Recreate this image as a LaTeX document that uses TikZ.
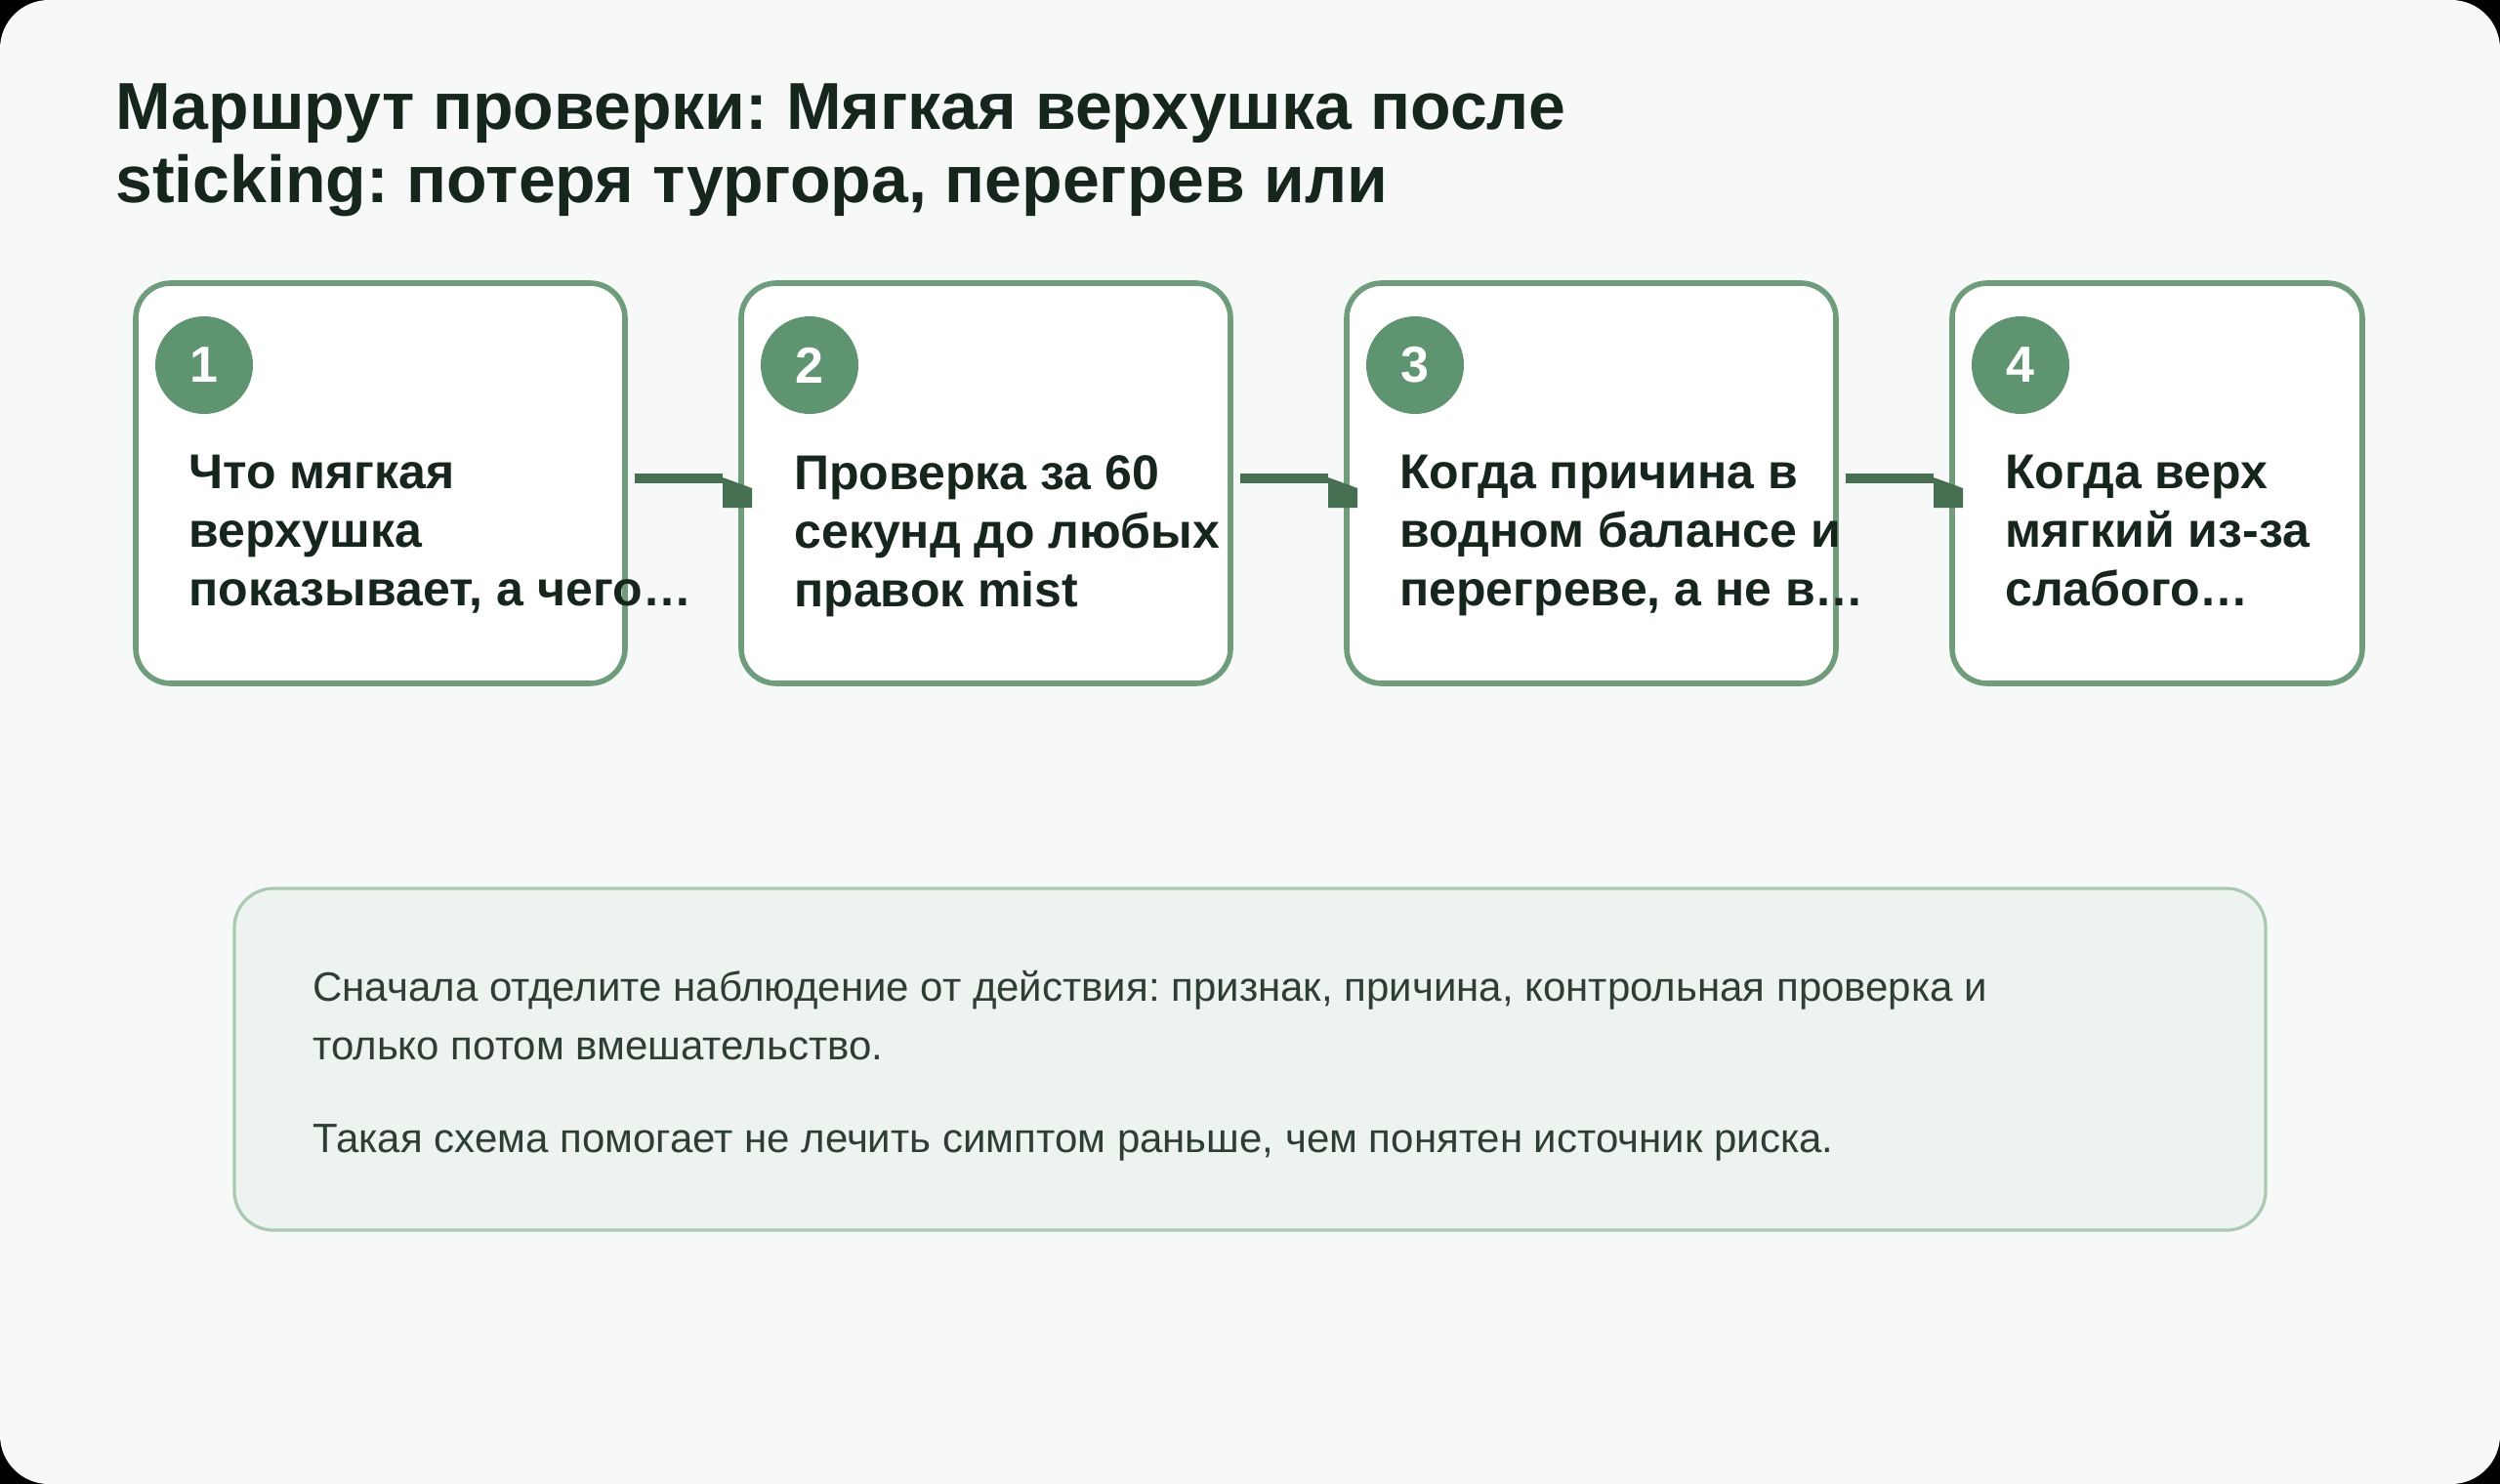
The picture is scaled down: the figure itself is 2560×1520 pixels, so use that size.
\documentclass[tikz,border=0pt]{standalone}
\usepackage{fontspec}
\setmainfont{Liberation Sans}
\usepackage{tikz}
\usetikzlibrary{positioning,calc}
\frenchspacing
\definecolor{bgpage}{HTML}{F6F9F7}
\definecolor{stepline}{HTML}{6F9C7B}
\definecolor{stepdot}{HTML}{5F9470}
\definecolor{linkgreen}{HTML}{476F52}
\definecolor{inkdark}{HTML}{17261D}
\definecolor{notefill}{HTML}{EDF4EF}
\definecolor{noteline}{HTML}{AAC8B2}
\definecolor{noteink}{HTML}{2E3E34}
\tikzset{stepbox/.style={draw=stepline, line width=2.8pt, fill=white, rounded corners=18pt, minimum width=250.5pt, minimum height=205pt, inner sep=0pt, outer sep=0pt}}
\tikzset{stepnum/.style={circle, fill=stepdot, text=white, minimum size=50pt, inner sep=0pt, font=\bfseries\fontsize{26}{26}\selectfont}}
\tikzset{steptext/.style={anchor=north west, inner sep=0pt, align=left, text=inkdark, font=\bfseries\fontsize{25}{30}\selectfont}}
\tikzset{titletext/.style={anchor=north west, inner sep=0pt, align=left, text=inkdark, font=\bfseries\fontsize{34}{37.5}\selectfont}}
\tikzset{link/.style={draw=linkgreen, line width=5pt}}
\tikzset{linkhead/.style={fill=linkgreen}}
\tikzset{notebox/.style={draw=noteline, line width=1.6pt, fill=notefill, rounded corners=20pt, minimum width=1040pt, minimum height=175pt, inner sep=0pt, outer sep=0pt}}
\tikzset{notetext/.style={anchor=north west, inner sep=0pt, align=left, text=noteink, font=\fontsize{21}{30}\selectfont}}
\begin{document}
\begin{tikzpicture}[x=0.5pt, y=-0.5pt]
	% page
	\fill[black] (0,0) rectangle (2560,1520);
	\fill[bgpage, rounded corners=25pt] (0,0) rectangle (2560,1520);
	\useasboundingbox (0,0) rectangle (2560,1520);
	\node[titletext] (title) at (118,85)
		{Маршрут проверки: Мягкая верхушка после\\sticking: потеря тургора, перегрев или};
	% steps
	\node[stepbox, anchor=north west] (b1) at (139,290) {};
	\node[stepbox, right=59.5pt of b1] (b2) {};
	\node[stepbox, right=59.5pt of b2] (b3) {};
	\node[stepbox, right=59.5pt of b3, minimum width=210pt] (b4) {};
	\node[stepnum] (n1) at ($(b1.north west)+(70,84)$) {1};
	\node[stepnum] (n2) at ($(b2.north west)+(70,84)$) {2};
	\node[stepnum] (n3) at ($(b3.north west)+(70,84)$) {3};
	\node[stepnum] (n4) at ($(b4.north west)+(70,84)$) {4};
	\node[steptext] (t1) at ($(b1.north west)+(54,176)$)
		{Что мягкая\\верхушка\\показывает, а чего…};
	\node[steptext] (t2) at ($(b2.north west)+(54,176)$)
		{Проверка за 60\\секунд до любых\\правок mist};
	\node[steptext] (t3) at ($(b3.north west)+(54,176)$)
		{Когда причина в\\водном балансе и\\перегреве, а не в…};
	\node[steptext] (t4) at ($(b4.north west)+(54,176)$)
		{Когда верх\\мягкий из-за\\слабого…};
	% links
	\draw[link] ([xshift=5pt, yshift=2.5pt]b1.east) -- ([xshift=-9.5pt, yshift=2.5pt]b2.west);
	\fill[linkhead] ([xshift=-9.5pt, yshift=3pt]b2.west) -- ([xshift=5.5pt, yshift=-2.5pt]b2.west)
		-- ([xshift=5.5pt, yshift=-12.5pt]b2.west) -- ([xshift=-9.5pt, yshift=-12.5pt]b2.west) -- cycle;
	\draw[link] ([xshift=5pt, yshift=2.5pt]b2.east) -- ([xshift=-9.5pt, yshift=2.5pt]b3.west);
	\fill[linkhead] ([xshift=-9.5pt, yshift=3pt]b3.west) -- ([xshift=5.5pt, yshift=-2.5pt]b3.west)
		-- ([xshift=5.5pt, yshift=-12.5pt]b3.west) -- ([xshift=-9.5pt, yshift=-12.5pt]b3.west) -- cycle;
	\draw[link] ([xshift=5pt, yshift=2.5pt]b3.east) -- ([xshift=-9.5pt, yshift=2.5pt]b4.west);
	\fill[linkhead] ([xshift=-9.5pt, yshift=3pt]b4.west) -- ([xshift=5.5pt, yshift=-2.5pt]b4.west)
		-- ([xshift=5.5pt, yshift=-12.5pt]b4.west) -- ([xshift=-9.5pt, yshift=-12.5pt]b4.west) -- cycle;
	% note
	\node[notebox, anchor=north west] (note) at (240,910) {};
	\node[notetext] (nt) at ($(note.north west)+(80,84)$)
		{Сначала отделите наблюдение от действия: признак, причина, контрольная проверка и\\
		только потом вмешательство.\\[17.5pt]
		Такая схема помогает не лечить симптом раньше, чем понятен источник риска.};
\end{tikzpicture}
\end{document}
